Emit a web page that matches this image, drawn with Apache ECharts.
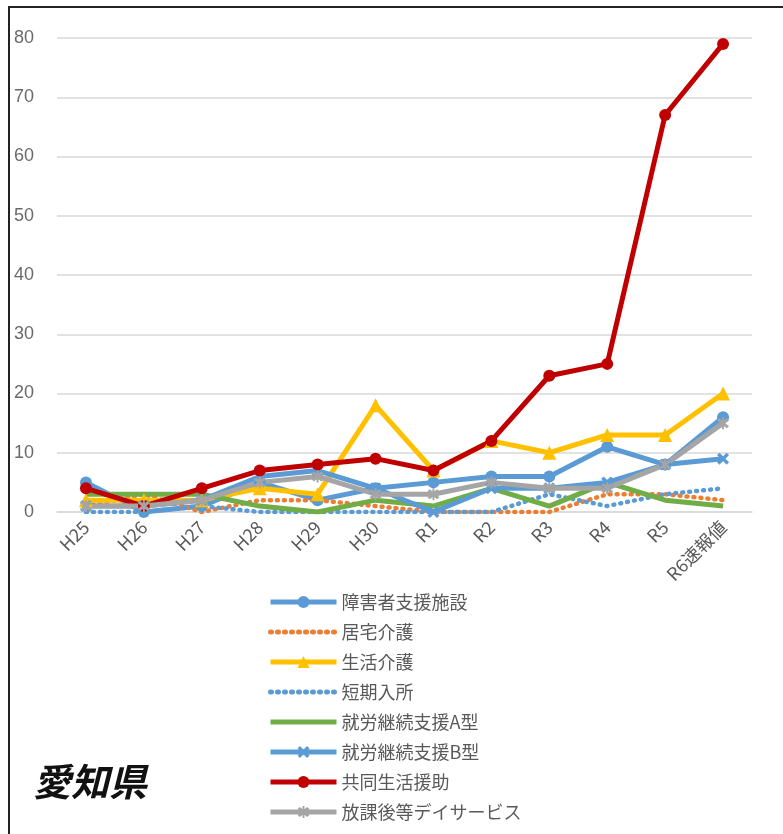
<!DOCTYPE html>
<html><head><meta charset="utf-8">
<script src="https://cdn.jsdelivr.net/npm/echarts@6/dist/echarts.min.js"></script>
<style>
html,body{margin:0;padding:0;background:#fff;}
#frame{position:absolute;left:8px;top:6px;width:800px;height:840px;border-left:2px solid #222;border-top:2px solid #222;box-sizing:border-box;}
#c{position:absolute;left:0;top:0;width:783px;height:834px;}
</style></head>
<body>
<div id="frame"></div>
<div id="c"></div>
<script>
const categories = ['H25','H26','H27','H28','H29','H30','R1','R2','R3','R4','R5','R6速報値'];
const yTicks = [0,10,20,30,40,50,60,70,80];
const shogaiShisetsu = [5,0,1,5,2,4,5,6,6,11,8,16];
const kyotakuKaigo   = [1,3,0,2,2,1,0,0,0,3,3,2];
const seikatsuKaigo  = [2,2,2,4,3,18,7,12,10,13,13,20];
const tankiNyusho    = [0,0,1,0,0,0,0,0,3,1,3,4];
const shuroA         = [3,3,3,1,0,2,1,4,1,5,2,1];
const shuroB         = [1,1,2,6,7,4,0,4,4,5,8,9];
const kyodoSeikatsu  = [4,1,4,7,8,9,7,12,23,25,67,79];
const hokago         = [1,1,2,5,6,3,3,5,4,4,8,15];
const seriesNames = ['障害者支援施設','居宅介護','生活介護','短期入所','就労継続支援A型','就労継続支援B型','共同生活援助','放課後等デイサービス'];

const xPath = 'path://M2,0L5,3L8,0L10,2L7,5L10,8L8,10L5,7L2,10L0,8L3,5L0,2Z';
const starPath = 'path://M2,0L5,3L8,0L10,2L7,5L10,8L8,10L5,7L2,10L0,8L3,5L0,2Z M4.2,-1L5.8,-1L5.8,11L4.2,11Z';

function mk(name, data, color, opts){
  return Object.assign({
    name, type:'line', data, smooth:false,
    lineStyle:{color, width:5},
    itemStyle:{color},
    symbol:'none', symbolSize:12,
    emphasis:{disabled:true}
  }, opts||{});
}
const series = [
  mk(seriesNames[0], shogaiShisetsu, '#5B9BD5', {symbol:'circle', symbolSize:12}),
  mk(seriesNames[1], kyotakuKaigo, '#ED7D31', {lineStyle:{color:'#ED7D31', width:4.5, type:[1,6], cap:'round'}}),
  mk(seriesNames[2], seikatsuKaigo, '#FFC000', {symbol:'triangle', symbolSize:14}),
  mk(seriesNames[3], tankiNyusho, '#5B9BD5', {lineStyle:{color:'#5B9BD5', width:4.5, type:[1,6], cap:'round'}}),
  mk(seriesNames[4], shuroA, '#70AD47'),
  mk(seriesNames[5], shuroB, '#5B9BD5', {symbol:xPath, symbolSize:12}),
  mk(seriesNames[6], kyodoSeikatsu, '#C00000', {symbol:'circle', symbolSize:12}),
  mk(seriesNames[7], hokago, '#A5A5A5', {symbol:starPath, symbolSize:12})
];

const noMarker = ['居宅介護','短期入所','就労継続支援A型'];
const legendData = seriesNames.map(n => noMarker.includes(n)
  ? {name:n, itemStyle:{opacity:0}}
  : {name:n});

const chart = echarts.init(document.getElementById('c'), null, {renderer:'canvas'});
chart.setOption({
  animation:false,
  backgroundColor:'transparent',
  title:{text:'愛知県', left:28, top:758, textStyle:{fontFamily:'Noto Sans CJK JP', fontSize:38, fontWeight:'bold', fontStyle:'italic', color:'#111'}},
  grid:{left:57, right:31, top:38, bottom:322, containLabel:false},
  xAxis:{type:'category', data:categories, boundaryGap:true,
    axisLine:{lineStyle:{color:'#d9d9d9', width:1.5}}, axisTick:{show:false},
    axisLabel:{rotate:45, fontSize:18, color:'#595959', fontFamily:'Noto Sans CJK JP', margin:12, interval:0}},
  yAxis:{type:'value', min:0, max:80, interval:10,
    axisLine:{show:false}, axisTick:{show:false},
    splitLine:{lineStyle:{color:'#d9d9d9', width:1.5}},
    axisLabel:{fontSize:18, color:'#6a6a6a', fontFamily:'Liberation Sans', margin:23,
      formatter:v=> yTicks.includes(v)? String(v):''}},
  legend:{orient:'vertical', left:263, top:588, itemWidth:66, itemHeight:15, itemGap:12,
    lineStyle:{width:5},
    textStyle:{fontSize:18, color:'#595959', fontFamily:'Noto Sans CJK JP'},
    data:legendData},
  series
});
</script>
</body></html>
